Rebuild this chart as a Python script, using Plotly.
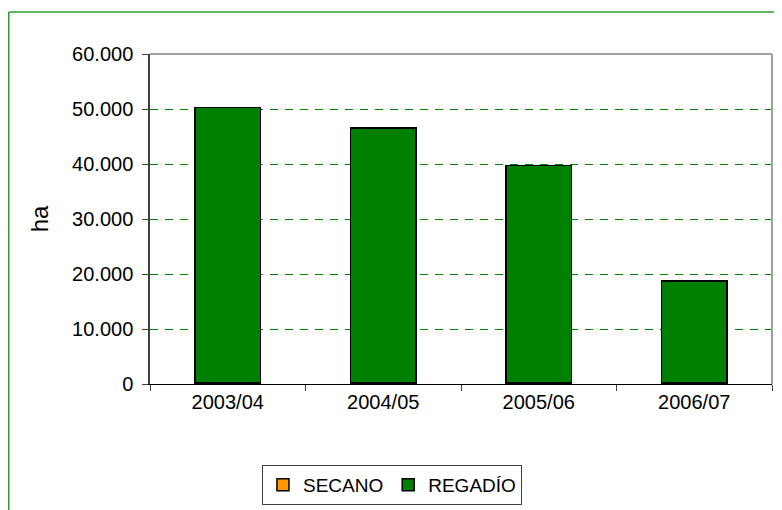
import plotly.graph_objects as go

campaigns = ["2003/04", "2004/05", "2005/06", "2006/07"]
secano = [250, 250, 250, 250]
regadio = [50000, 46300, 39500, 18450]
y_ticks = [0, 10000, 20000, 30000, 40000, 50000, 60000]
y_tick_labels = ["0", "10.000", "20.000", "30.000", "40.000", "50.000", "60.000"]
grid_values = [10000, 20000, 30000, 40000, 50000]

font = dict(family="Liberation Sans, Arial, sans-serif", size=20, color="black")

W, H = 782, 510
M = dict(l=142, r=18, t=46, b=134)
y_max = 60000
# half a pixel in data units, so 1px dashed gridlines render crisp
half_px = 0.5 * y_max / (H - M["t"] - M["b"])

fig = go.Figure()
fig.add_trace(go.Bar(
    x=campaigns, y=secano, name="SECANO",
    marker=dict(color="#FF9900", line=dict(color="black", width=1.5)),
))
fig.add_trace(go.Bar(
    x=campaigns, y=regadio, name="REGADÍO",
    marker=dict(color="#008000", line=dict(color="black", width=1.5)),
))

# the page body adds an 8px offset, margins account for it
fig.update_layout(
    barmode="stack",
    bargap=0.58,
    width=W, height=H,
    margin=M,
    paper_bgcolor="white",
    plot_bgcolor="white",
    font=font,
    showlegend=True,
    legend=dict(
        orientation="h",
        xref="container", yref="container",
        x=0.491, xanchor="center",
        y=0.104, yanchor="top",
        bordercolor="#404040", borderwidth=1,
        font=dict(size=19),
        itemwidth=30,
        traceorder="normal",
    ),
)

fig.update_xaxes(
    showline=True, linecolor="black", linewidth=1,
    ticks="outside", tickson="boundaries", ticklen=6, tickcolor="#404040",
    showgrid=False,
)
fig.update_yaxes(
    range=[0, y_max],
    tickvals=y_ticks, ticktext=y_tick_labels,
    showline=True, linecolor="#404040", linewidth=1.5,
    ticks="outside", ticklen=6, tickcolor="#404040",
    ticklabelstandoff=5,
    showgrid=False,
    zeroline=False,
    title=dict(text="ha", standoff=17),
)

# dashed green gridlines
for v in grid_values:
    fig.add_shape(type="line", xref="paper", yref="y", x0=0, x1=1,
                  y0=v - half_px, y1=v - half_px,
                  layer="below", line=dict(color="#008000", width=1, dash="8px,7px"))

# top / right frame of the plot area (gray)
fig.add_shape(type="line", xref="paper", yref="paper", x0=0, x1=1, y0=1, y1=1,
              line=dict(color="#A0A0A0", width=2))
fig.add_shape(type="line", xref="paper", yref="paper", x0=1, x1=1, y0=0, y1=1,
              line=dict(color="#A0A0A0", width=2))

# green outer chart border (left and top visible)
fig.add_shape(type="line", xref="paper", yref="paper", x0=-0.2271, x1=1.2, y0=1.1273, y1=1.1273,
              line=dict(color="#339933", width=1.5))
fig.add_shape(type="line", xref="paper", yref="paper", x0=-0.2271, x1=-0.2271, y0=-0.6, y1=1.1273,
              line=dict(color="#339933", width=1.5))

fig.write_html("out.html")
